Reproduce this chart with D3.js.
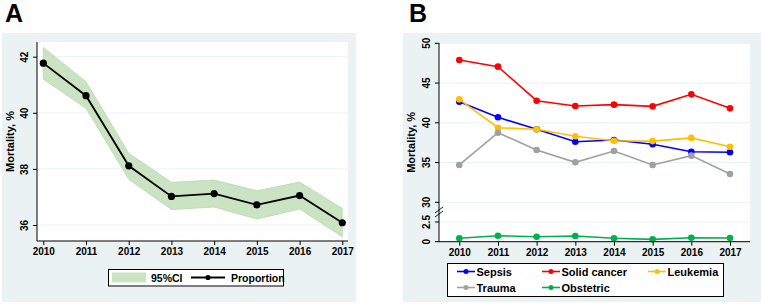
<!DOCTYPE html>
<html>
<head>
<meta charset="utf-8">
<script src="https://cdn.jsdelivr.net/npm/d3@7"></script>
<style>
  body { margin: 0; background: #fff; }
  text { font-family: "Liberation Sans", Arial, sans-serif; font-weight: bold; fill: #000; }
</style>
</head>
<body>
<div id="chart"></div>
<script>
// ---- data ----
const years = [2010, 2011, 2012, 2013, 2014, 2015, 2016, 2017];
const proportion = [41.77, 40.61, 38.11, 37.02, 37.12, 36.72, 37.05, 36.08];
const ciLow = [41.2, 40.16, 37.63, 36.55, 36.64, 36.21, 36.57, 35.58];
const ciHigh = [42.33, 41.11, 38.56, 37.52, 37.6, 37.22, 37.53, 36.59];
const ticksA = [36, 38, 40, 42];

const sepsis = [42.65, 40.69, 39.18, 37.62, 37.84, 37.3, 36.35, 36.3];
const solidCancer = [47.9, 47.06, 42.78, 42.11, 42.28, 42.07, 43.58, 41.82];
const leukemia = [42.95, 39.38, 39.18, 38.3, 37.75, 37.7, 38.1, 36.99];
const trauma = [34.7, 38.75, 36.58, 35.03, 36.45, 34.7, 35.87, 33.56];
const obstetric = [0.43, 0.76, 0.63, 0.72, 0.43, 0.3, 0.51, 0.47];
const ticksBUpper = [30, 35, 40, 45, 50];
const ticksBLower = [0, 2.5];

const seriesB = [
  {name: "Sepsis", values: sepsis, color: "#0000ff", lower: false},
  {name: "Solid cancer", values: solidCancer, color: "#ff0000", lower: false},
  {name: "Leukemia", values: leukemia, color: "#ffc000", lower: false},
  {name: "Trauma", values: trauma, color: "#a0a0a0", lower: false},
  {name: "Obstetric", values: obstetric, color: "#00b050", lower: true}
];

const W = 761, H = 304;
const bg = "#eaf2f3", grid = "#eaf2f3";

const svg = d3.select("#chart").append("svg")
  .attr("width", W).attr("height", H);

// ================= Panel A =================
const A = {left: 37, right: 348, top: 42, bottom: 241};
const gA = svg.append("g");
gA.append("rect").attr("x", 2).attr("y", 33).attr("width", 354).attr("height", 269).attr("fill", bg);
gA.append("rect").attr("x", A.left).attr("y", A.top)
  .attr("width", A.right - A.left).attr("height", A.bottom - A.top).attr("fill", "#fff");

const xA = d3.scaleLinear().domain([2010, 2017]).range([43.3, 342.3]);
const yA = d3.scaleLinear().domain([36, 42]).range([225, 56.7]);

// grid
gA.selectAll(".grid").data(ticksA).enter().append("line")
  .attr("x1", A.left).attr("x2", A.right)
  .attr("y1", d => yA(d)).attr("y2", d => yA(d))
  .attr("stroke", grid).attr("stroke-width", 1);

// CI band
const area = d3.area()
  .x((d, i) => xA(years[i]))
  .y0((d, i) => yA(ciLow[i]))
  .y1((d, i) => yA(ciHigh[i]));
gA.append("path").datum(years).attr("d", area)
  .attr("fill", "#c9e3c3").attr("stroke", "#b6d9af").attr("stroke-width", 0.8);

// line + points
const lineA = d3.line().x((d, i) => xA(years[i])).y(d => yA(d));
gA.append("path").datum(proportion).attr("d", lineA)
  .attr("fill", "none").attr("stroke", "#000").attr("stroke-width", 1.8);
gA.selectAll(".pt").data(proportion).enter().append("circle")
  .attr("cx", (d, i) => xA(years[i])).attr("cy", d => yA(d))
  .attr("r", 3.6).attr("fill", "#000");

// axes
const axA = d3.axisBottom(xA).tickValues(years).tickFormat(d3.format("d")).tickSizeOuter(0).tickSize(4).tickPadding(3);
const axAg = gA.append("g").attr("transform", `translate(0,${A.bottom})`).call(axA);
axAg.select(".domain").remove();
gA.append("line").attr("x1", A.left).attr("x2", A.right).attr("y1", A.bottom).attr("y2", A.bottom).attr("stroke", "#000");
axAg.selectAll("text").attr("font-size", 10).attr("font-family", "Liberation Sans, Arial").attr("font-weight", "bold");

const ayA = d3.axisLeft(yA).tickValues(ticksA).tickFormat(d3.format("d")).tickSize(4).tickPadding(2);
const ayAg = gA.append("g").attr("transform", `translate(${A.left},0)`).call(ayA);
ayAg.select(".domain").remove();
gA.append("line").attr("x1", A.left).attr("x2", A.left).attr("y1", A.top).attr("y2", A.bottom).attr("stroke", "#000");
ayAg.selectAll("text")
  .attr("font-size", 10).attr("font-family", "Liberation Sans, Arial").attr("font-weight", "bold")
  .attr("x", null).attr("dy", null)
  .attr("text-anchor", "middle")
  .attr("transform", "translate(-9,0) rotate(-90)");

gA.append("text").attr("transform", `translate(14,${(A.top + A.bottom) / 2}) rotate(-90)`)
  .attr("text-anchor", "middle").attr("font-size", 11).text("Mortality, %");

gA.append("text").attr("x", 5).attr("y", 22).attr("font-size", 25).text("A");

// legend A
const lA = gA.append("g");
lA.append("rect").attr("x", 108.5).attr("y", 269.5).attr("width", 175).attr("height", 16.5)
  .attr("fill", "#fff").attr("stroke", "#000").attr("stroke-width", 1);
lA.append("rect").attr("x", 112).attr("y", 272.5).attr("width", 34).attr("height", 10).attr("fill", "#c9e3c3");
lA.append("text").attr("x", 151).attr("y", 281.5).attr("font-size", 10.5).text("95%CI");
lA.append("line").attr("x1", 191).attr("x2", 225).attr("y1", 277.5).attr("y2", 277.5).attr("stroke", "#000").attr("stroke-width", 1.8);
lA.append("circle").attr("cx", 208).attr("cy", 277.5).attr("r", 2.6).attr("fill", "#000");
lA.append("text").attr("x", 231).attr("y", 281.5).attr("font-size", 10.5).text("Proportion");

// ================= Panel B =================
const B = {left: 439, right: 750, top: 43, bottom: 241.7};
const gB = svg.append("g");
gB.append("rect").attr("x", 403).attr("y", 33).attr("width", 358).attr("height", 269).attr("fill", bg);
gB.append("rect").attr("x", B.left).attr("y", B.top)
  .attr("width", B.right - B.left).attr("height", B.bottom - B.top).attr("fill", "#fff");

const xB = d3.scaleLinear().domain([2010, 2017]).range([459.3, 730]);
const yUp = d3.scaleLinear().domain([30, 50]).range([202.3, 43.3]);
const yLo = d3.scaleLinear().domain([0, 2.5]).range([241.7, 222]);

const tickPos = ticksBUpper.map(v => ({v: v, y: yUp(v)}))
  .concat(ticksBLower.map(v => ({v: v, y: yLo(v)})));

gB.selectAll(".grid").data(tickPos).enter().append("line")
  .attr("x1", B.left).attr("x2", B.right)
  .attr("y1", d => d.y).attr("y2", d => d.y)
  .attr("stroke", grid).attr("stroke-width", 1);

seriesB.forEach(s => {
  const sc = s.lower ? yLo : yUp;
  const ln = d3.line().x((d, i) => xB(years[i])).y(d => sc(d));
  gB.append("path").datum(s.values).attr("d", ln)
    .attr("fill", "none").attr("stroke", s.color).attr("stroke-width", 1.6);
  gB.selectAll(null).data(s.values).enter().append("circle")
    .attr("cx", (d, i) => xB(years[i])).attr("cy", d => sc(d))
    .attr("r", 3.3).attr("fill", s.color);
});

// axes B
const axB = d3.axisBottom(xB).tickValues(years).tickFormat(d3.format("d")).tickSizeOuter(0).tickSize(4).tickPadding(3);
const axBg = gB.append("g").attr("transform", `translate(0,${B.bottom})`).call(axB);
axBg.select(".domain").remove();
axBg.selectAll("text").attr("font-size", 10).attr("font-family", "Liberation Sans, Arial").attr("font-weight", "bold");
gB.append("line").attr("x1", B.left).attr("x2", B.right).attr("y1", B.bottom).attr("y2", B.bottom).attr("stroke", "#000");
gB.append("line").attr("x1", B.left).attr("x2", B.left).attr("y1", B.top).attr("y2", B.bottom).attr("stroke", "#000");

const yt = gB.selectAll(".ytick").data(tickPos).enter().append("g")
  .attr("transform", d => `translate(${B.left},${d.y})`);
yt.append("line").attr("x1", -4).attr("x2", 0).attr("stroke", "#000");
yt.append("text").attr("transform", "translate(-9,0) rotate(-90)")
  .attr("text-anchor", "middle").attr("font-size", 10).text(d => d.v);

// axis break marks
const brY = 212.5;
[-2.5, 1.5].forEach(off => {
  gB.append("line").attr("x1", B.left - 4).attr("x2", B.left + 4)
    .attr("y1", brY + off + 3).attr("y2", brY + off - 3)
    .attr("stroke", "#000").attr("stroke-width", 0.9);
});

gB.append("text").attr("transform", `translate(415,${(B.top + B.bottom) / 2}) rotate(-90)`)
  .attr("text-anchor", "middle").attr("font-size", 11).text("Mortality, %");

gB.append("text").attr("x", 409).attr("y", 22).attr("font-size", 25).text("B");

// legend B
const lB = gB.append("g");
lB.append("rect").attr("x", 447.5).attr("y", 263.5).attr("width", 276).attr("height", 33)
  .attr("fill", "#fff").attr("stroke", "#000").attr("stroke-width", 1);
const legPos = [
  {x: 457, y: 271.5}, {x: 542, y: 271.5}, {x: 648, y: 271.5},
  {x: 457, y: 287.5}, {x: 542, y: 287.5}
];
seriesB.forEach((s, i) => {
  const p = legPos[i];
  lB.append("line").attr("x1", p.x).attr("x2", p.x + 18).attr("y1", p.y).attr("y2", p.y)
    .attr("stroke", s.color).attr("stroke-width", 1.6);
  lB.append("circle").attr("cx", p.x + 9).attr("cy", p.y).attr("r", 2.5).attr("fill", s.color);
  lB.append("text").attr("x", p.x + 19.5).attr("y", p.y + 4).attr("font-size", 11).text(s.name);
});
</script>
</body>
</html>
